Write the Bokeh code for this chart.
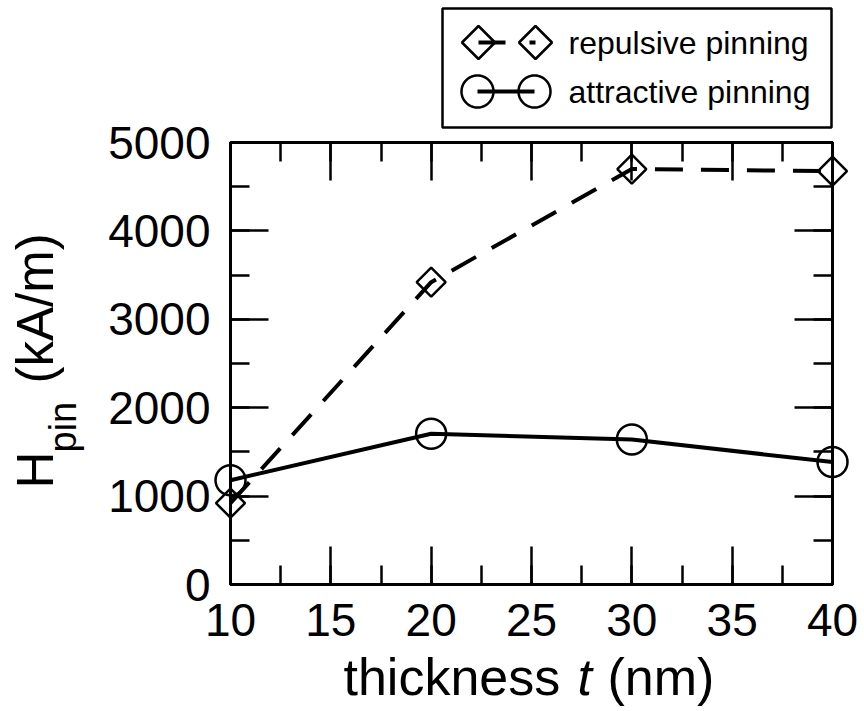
import numpy as np
from bokeh.plotting import figure
from bokeh.models import Range1d, LinearAxis, SingleIntervalTicker, ColumnDataSource
from bokeh.embed import file_html
from bokeh.resources import INLINE
from bokeh.core.properties import value

# ---- data ----
thickness = [10, 20, 30, 40]
repulsive = [920, 3420, 4700, 4675]
attractive = [1180, 1705, 1640, 1385]
series_names = ["repulsive pinning", "attractive pinning"]
x_tick_interval = 5
y_tick_interval = 1000
x_lo, x_hi = 10, 40
y_lo, y_hi = 0, 5000

FONT = "Liberation Sans"

# frame placement on the page (pixels)
FL, FR, FT, FB = 230, 832, 142, 584
W, H = 864, 711

p = figure(width=W, height=H, x_range=Range1d(x_lo, x_hi), y_range=Range1d(y_lo, y_hi),
           output_backend="svg", toolbar_location=None,
           min_border_left=FL, min_border_right=W - FR, min_border_top=FT,
           min_border_bottom=H - FB)
p.grid.visible = False
p.outline_line_color = "black"
p.outline_line_width = 3

xt = SingleIntervalTicker(interval=x_tick_interval, num_minor_ticks=2)
yt = SingleIntervalTicker(interval=y_tick_interval, num_minor_ticks=2)
bottom_ax = p.below[0]
left_ax = p.left[0]
bottom_ax.ticker = xt
left_ax.ticker = yt

top_ax = LinearAxis(ticker=xt)
right_ax = LinearAxis(ticker=yt)
p.add_layout(top_ax, "above")
p.add_layout(right_ax, "right")

for ax in (bottom_ax, left_ax, top_ax, right_ax):
    ax.axis_line_color = None
    ax.major_tick_in = 38
    ax.major_tick_out = 0
    ax.minor_tick_in = 19
    ax.minor_tick_out = 0
    ax.major_tick_line_width = 2.5
    ax.minor_tick_line_width = 2.5
    ax.major_tick_line_color = "black"
    ax.minor_tick_line_color = "black"
    ax.major_label_text_font = FONT
    ax.major_label_text_color = "black"

for ax in (top_ax, right_ax):
    ax.major_label_text_color = None
    ax.major_label_text_font_size = "1px"
    ax.major_label_standoff = 0

bottom_ax.major_label_text_font_size = "46px"
bottom_ax.major_label_standoff = 19
left_ax.major_label_text_font_size = "46px"
left_ax.major_label_standoff = 20

src = ColumnDataSource(dict(x=thickness, rep=repulsive, att=attractive))
p.line("x", "rep", source=src, line_color="black", line_width=4, line_dash="28 18")
p.line("x", "att", source=src, line_color="black", line_width=4)
r1 = p.scatter("x", "rep", source=src, marker="square", size=20.5, angle=np.pi / 4,
               fill_color=None, line_color="black", line_width=2.5)
r2 = p.scatter("x", "att", source=src, marker="circle", size=30,
               fill_color=None, line_color="black", line_width=2.5)
r1.level = "overlay"
r2.level = "overlay"

# page pixel -> data coordinates, for decorations drawn outside the frame
def px2x(px):
    return x_lo + (px - FL) * (x_hi - x_lo) / (FR - FL)

def py2y(py):
    return y_lo + (FB - py) * (y_hi - y_lo) / (FB - FT)

def over(r):
    r.level = "overlay"
    return r

def outline(pxs, pys, width=2.5):
    over(p.line([px2x(v) for v in pxs], [py2y(v) for v in pys],
                line_color="black", line_width=width))

def diamond(cx, cy, r):
    outline([cx, cx + r, cx, cx - r, cx, cx + r], [cy - r, cy, cy + r, cy, cy - r, cy])

def ring(cx, cy, r):
    t = np.linspace(0, 2 * np.pi, 61)
    outline(list(cx + r * np.cos(t)), list(cy + r * np.sin(t)))

# ---- legend (above the frame) ----
over(p.quad(left=[px2x(442)], right=[px2x(831)], top=[py2y(8)], bottom=[py2y(127)],
            fill_color=None, line_color="black", line_width=2.5))
over(p.line([px2x(478), px2x(535)], [py2y(42)] * 2, line_color="black", line_width=4,
            line_dash="27 24"))
diamond(478, 42, 16.5)
diamond(535, 42, 16.5)
over(p.line([px2x(477), px2x(534)], [py2y(91)] * 2, line_color="black", line_width=4))
ring(477, 91, 16)
ring(534, 91, 16)
over(p.text(x=[px2x(568)] * 2, y=[py2y(42), py2y(91)], text=series_names,
            text_font=value(FONT), text_font_size=value("32px"), text_baseline="middle",
            text_align="left", text_color="black"))

# ---- axis titles ----
def lab(px, py, text, size, style="normal", angle=0.0):
    over(p.text(x=[px2x(px)], y=[py2y(py)], text=[text], angle=angle,
                text_font=value(FONT), text_font_size=value("%dpx" % size),
                text_font_style=style, text_align="left",
                text_baseline="alphabetic", text_color="black"))

k = 0.4  # empirical baseline correction (fraction of font size)
lab(343, 697 - k * 52, "thickness", 52)
lab(577, 697 - k * 52, "t", 52, style="italic")
lab(607, 697 - k * 52, "(nm)", 52)

lab(55 - k * 51, 488, "H", 51, angle=np.pi / 2)
lab(78 - k * 38, 452, "pin", 38, angle=np.pi / 2)
lab(55 - k * 51, 383, "(kA/m)", 51, angle=np.pi / 2)

open("out.html", "w").write(file_html(p, INLINE))
